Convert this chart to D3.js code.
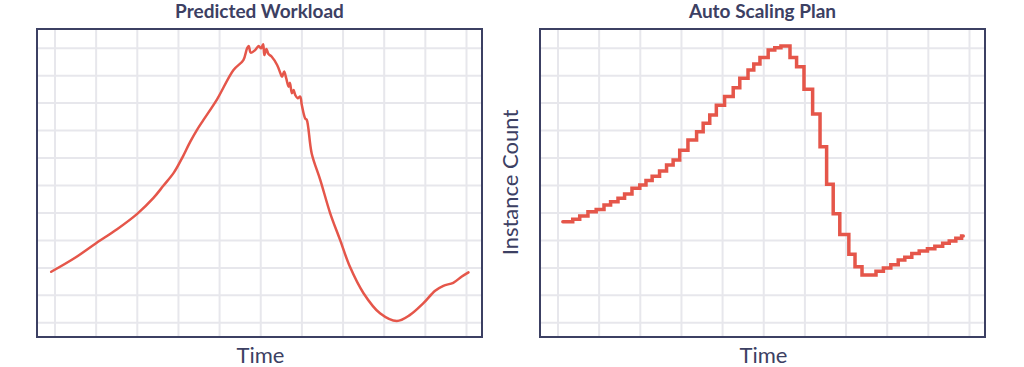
<!DOCTYPE html>
<html>
<head>
<meta charset="utf-8">
<script src="https://cdn.jsdelivr.net/npm/d3@7"></script>
<style>
  html, body { margin: 0; padding: 0; background: #ffffff; }
  svg { display: block; }
</style>
</head>
<body>
<svg id="chart" width="1024" height="367"></svg>
<script>
// ---------- data ----------
const panelTitles = ["Predicted Workload", "Auto Scaling Plan"];
const xAxisLabels = ["Time", "Time"];
const yAxisLabels = ["", "Instance Count"];
const gridTicks = [0, 1, 2, 3, 4, 5, 6, 7, 8, 9, 10];

// Predicted workload (time in grid units, workload in grid units)
const workloadTime = [-0.08, 0.50, 1.01, 1.52, 2.01, 2.40, 2.65, 2.90, 3.10, 3.30, 3.46, 3.62, 3.95, 4.35,
  4.59, 4.68, 4.72, 4.77, 4.88, 4.96, 5.02, 5.07, 5.10, 5.15, 5.20, 5.28, 5.41, 5.49, 5.53, 5.58,
  5.63, 5.69, 5.72, 5.77, 5.81, 5.85, 5.91, 5.97, 6.01, 6.09, 6.13, 6.25, 6.46, 6.70, 6.94, 7.18,
  7.51, 7.91, 8.32, 8.64, 8.96, 9.25, 9.45, 9.69, 9.89, 10.06];
const workloadValue = [1.84, 2.35, 2.88, 3.39, 3.95, 4.52, 4.98, 5.45, 5.98, 6.58, 7.00, 7.37, 8.12, 9.19,
  9.55, 9.98, 10.06, 9.82, 9.92, 10.06, 9.98, 10.13, 9.73, 9.95, 9.77, 9.67, 9.37, 9.07, 8.94, 9.13,
  8.89, 8.58, 8.72, 8.34, 8.46, 8.28, 8.16, 8.22, 7.91, 7.43, 7.37, 6.15, 5.18, 3.97, 3.00, 2.02,
  1.06, 0.33, 0.05, 0.27, 0.69, 1.15, 1.33, 1.44, 1.66, 1.82];

// Auto scaling plan (step start time, instance count level)
const planTime = [0.13, 0.37, 0.54, 0.74, 0.94, 1.13, 1.29, 1.47, 1.63, 1.81, 2.00, 2.15, 2.30, 2.48,
  2.65, 2.81, 2.97, 3.17, 3.38, 3.54, 3.70, 3.86, 4.06, 4.27, 4.43, 4.63, 4.77, 4.92, 5.12, 5.28,
  5.43, 5.65, 5.81, 5.99, 6.20, 6.38, 6.54, 6.70, 6.86, 7.08, 7.23, 7.40, 7.74, 7.92, 8.10, 8.28,
  8.44, 8.61, 8.79, 8.99, 9.17, 9.36, 9.52, 9.68, 9.82, 9.86];
const planValue = [3.66, 3.75, 3.87, 4.03, 4.11, 4.27, 4.39, 4.52, 4.67, 4.88, 5.00, 5.16, 5.32, 5.51,
  5.73, 5.91, 6.27, 6.64, 6.94, 7.25, 7.55, 7.90, 8.22, 8.54, 8.89, 9.19, 9.41, 9.64, 9.92, 10.00,
  10.06, 9.64, 9.31, 8.49, 7.59, 6.39, 5.03, 3.95, 3.20, 2.48, 2.02, 1.72, 1.86, 1.98, 2.10, 2.27,
  2.37, 2.51, 2.60, 2.68, 2.77, 2.88, 2.96, 3.06, 3.14, 3.14];

// ---------- layout ----------
const svg = d3.select("#chart");
const navy = "#3c4063";
const red = "#e5564a";
const gridColor = "#e7e7ec";
const fontFam = "Lato, 'Open Sans', sans-serif";

const frames = [
  { x: 37, y: 29, w: 445, h: 308 },
  { x: 540, y: 29, w: 445, h: 308 }
];

const series = [
  { data: workloadTime.map((t, i) => ({ t, v: workloadValue[i] })), curve: d3.curveCatmullRom.alpha(0.5), width: 2.5, join: "round" },
  { data: planTime.map((t, i) => ({ t, v: planValue[i] })), curve: d3.curveStepAfter, width: 3.5, join: "miter" }
];

frames.forEach((f, i) => {
  const g = svg.append("g");
  const x = d3.scaleLinear().domain([0, 10]).range([f.x + 17.5, f.x + 429]);
  const y = d3.scaleLinear().domain([0, 10]).range([322.3, 47.7]);

  // grid via axes
  const xGrid = g.append("g")
    .attr("transform", `translate(0,${f.y + f.h})`)
    .call(d3.axisBottom(x).tickValues(gridTicks).tickSize(-f.h).tickFormat(""));
  const yGrid = g.append("g")
    .attr("transform", `translate(${f.x},0)`)
    .call(d3.axisLeft(y).tickValues(gridTicks).tickSize(-f.w).tickFormat(""));
  [xGrid, yGrid].forEach(a => {
    a.select(".domain").remove();
    a.selectAll(".tick line").attr("stroke", gridColor).attr("stroke-width", 2);
  });

  // line
  const line = d3.line().x(d => x(d.t)).y(d => y(d.v)).curve(series[i].curve);
  g.append("path")
    .datum(series[i].data)
    .attr("fill", "none")
    .attr("stroke", red)
    .attr("stroke-width", series[i].width)
    .attr("stroke-linejoin", series[i].join)
    .attr("stroke-linecap", "round")
    .attr("d", line);

  // frame
  g.append("rect")
    .attr("x", f.x).attr("y", f.y).attr("width", f.w).attr("height", f.h)
    .attr("fill", "none").attr("stroke", navy).attr("stroke-width", 2);

  // title
  g.append("text")
    .attr("x", f.x + f.w / 2).attr("y", 17.5)
    .attr("text-anchor", "middle")
    .attr("font-family", fontFam).attr("font-weight", 700).attr("font-size", 19)
    .attr("fill", navy)
    .text(panelTitles[i]);

  // x label
  g.append("text")
    .attr("x", f.x + f.w / 2 + 1).attr("y", 362.5)
    .attr("text-anchor", "middle")
    .attr("font-family", fontFam).attr("font-size", 22)
    .attr("fill", navy)
    .text(xAxisLabels[i]);

  // y label
  if (yAxisLabels[i]) {
    g.append("text")
      .attr("transform", `translate(${f.x - 22},${182.5}) rotate(-90)`)
      .attr("text-anchor", "middle")
      .attr("font-family", fontFam).attr("font-size", 22)
      .attr("fill", navy)
      .text(yAxisLabels[i]);
  }
});
</script>
</body>
</html>
